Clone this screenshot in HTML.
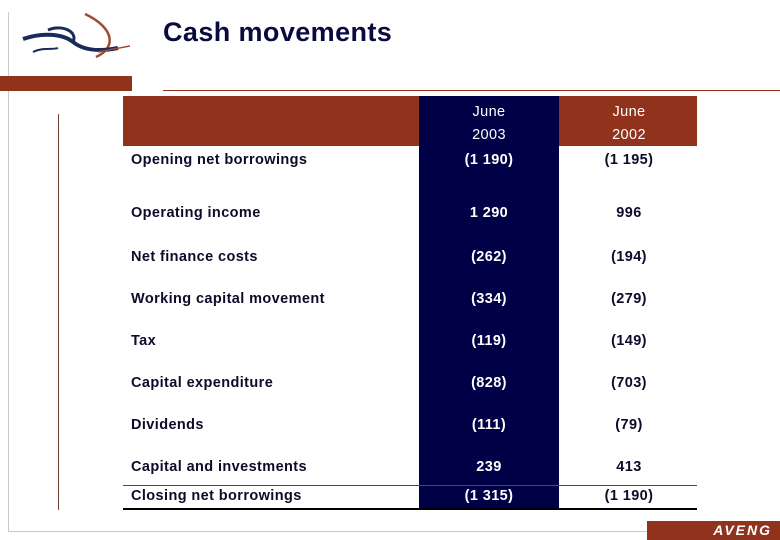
<!DOCTYPE html>
<html><head><meta charset="utf-8"><style>
body{margin:0;width:780px;height:540px;background:#fff;position:relative;overflow:hidden;font-family:"Liberation Sans",Arial,sans-serif}
div{position:absolute}
.lbl{left:131px;font-size:14.5px;font-weight:bold;letter-spacing:0.4px;color:#0c0c2a;transform:translateY(-50%);white-space:nowrap}
.v1,.v2{width:140px;text-align:center;font-size:14.5px;font-weight:bold;letter-spacing:0.4px;transform:translateY(-50%)}
.v1{left:419px;color:#fff}.v2{left:559px;color:#0c0c2a}
.hd{top:101px;line-height:23px;transform:none}
</style></head><body>
<div style="left:8px;top:12px;width:1px;height:520px;background:#c8c8c8"></div>
<div style="left:8px;top:531px;width:640px;height:1px;background:#c8c8c8"></div>
<svg style="position:absolute;left:18px;top:12px" width="115" height="55" viewBox="0 0 115 55">
<path d="M67 2 C95 15 100 35 78 45" stroke="#a04a30" stroke-width="2.5" fill="none"/>
<path d="M5 27 C25 20 45 22 55 30 C65 38 80 40 100 36" stroke="#1a2a5a" stroke-width="4" fill="none"/>
<path d="M30 18 C45 12 60 20 55 30" stroke="#1a2a5a" stroke-width="3" fill="none"/>
<path d="M15 40 C25 35 35 38 40 36" stroke="#1a2a5a" stroke-width="2" fill="none"/>
<path d="M80 40 L112 34" stroke="#a04a30" stroke-width="1.5"/>
</svg>
<div style="left:163px;top:17px;font-size:27px;letter-spacing:0.4px;font-weight:bold;color:#0a0a40">Cash movements</div>
<div style="left:0;top:76px;width:132px;height:15px;background:#90321c"></div>
<div style="left:163px;top:90px;width:617px;height:1px;background:#90321c"></div>
<div style="left:58px;top:114px;width:1px;height:396px;background:#6b4030"></div>
<div style="left:123px;top:96px;width:574px;height:50px;background:#90321c"></div>
<div style="left:419px;top:96px;width:140px;height:414px;background:#000046"></div>
<div class="v1 hd" style="font-weight:normal">June<br>2003</div>
<div class="v1 hd" style="left:559px;font-weight:normal">June<br>2002</div>
<div style="left:123px;top:485px;width:574px;height:1px;background:#90321c"></div>
<div style="left:123px;top:508px;width:574px;height:2px;background:#000"></div>
<div style="left:647px;top:521px;width:133px;height:19px;background:#90321c;color:#fff;font-style:italic;font-weight:bold;font-size:14px;letter-spacing:2px;text-align:right;padding-right:8px;box-sizing:border-box;line-height:19px">AVENG</div>
<script>
const labels=["Opening net borrowings","Operating income","Net finance costs","Working capital movement","Tax","Capital expenditure","Dividends","Capital and investments","Closing net borrowings"];
const y2003=["(1 190)","1 290","(262)","(334)","(119)","(828)","(111)","239","(1 315)"];
const y2002=["(1 195)","996","(194)","(279)","(149)","(703)","(79)","413","(1 190)"];
const rowY=[160,213,257,299,341,383,425,467,496];
const r=document.body;
labels.forEach((l,i)=>{
 const a=document.createElement('div');a.className='lbl';a.style.top=rowY[i]+'px';a.textContent=l;
 
 r.appendChild(a);
 const b=document.createElement('div');b.className='v1';b.style.top=rowY[i]+'px';b.textContent=y2003[i];
 
 r.appendChild(b);
 const c=document.createElement('div');c.className='v2';c.style.top=rowY[i]+'px';c.textContent=y2002[i];
 
 r.appendChild(c);
});
</script>
</body></html>
